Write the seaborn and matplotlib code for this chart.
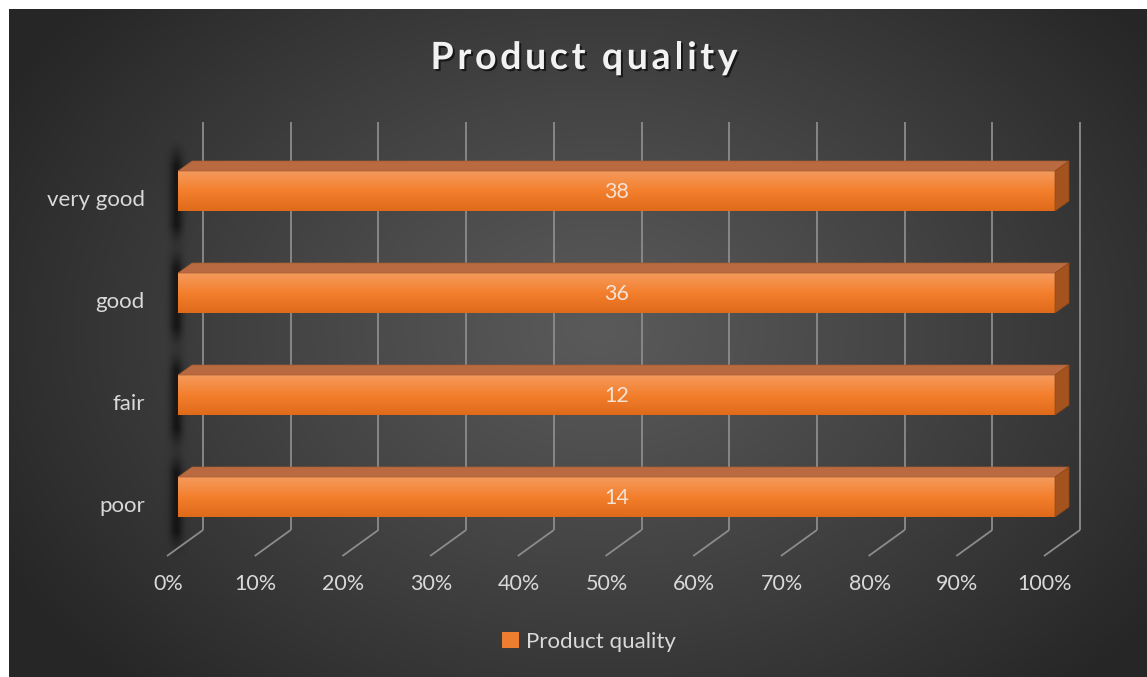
import numpy as np
import pandas as pd
import matplotlib
matplotlib.use("Agg")
import matplotlib.pyplot as plt
import seaborn as sns
from matplotlib.patches import Polygon
import matplotlib.patheffects as pe
from matplotlib.colors import to_rgb

# ---------------- data ----------------
categories = ["very good", "good", "fair", "poor"]
counts = [38, 36, 12, 14]
series_name = "Product quality"
tick_values = [0, 10, 20, 30, 40, 50, 60, 70, 80, 90, 100]
tick_labels = [f"{v}%" for v in tick_values]
title_text = "Product quality"

W, H, DPI = 1147, 677, 100
sns.set_theme(style="white")
plt.rcParams["font.family"] = ["Lato", "DejaVu Sans"]

fig = plt.figure(figsize=(W / DPI, H / DPI), dpi=DPI)
fig.patch.set_facecolor("white")

# ---------------- background (radial gradient) ----------------
bg = fig.add_axes([9 / W, 0, 1 - 9 / W, 1 - 9 / H], zorder=0)
bw, bh = W - 9, H - 9
yy, xx = np.mgrid[0:bh, 0:bw]
cx, cy = 590, 320
r = np.sqrt(((xx - cx) / (bw * 0.60)) ** 2 + ((yy - cy) / (bh * 0.75)) ** 2)
r = np.clip(r, 0, 1) ** 1.1
c0 = np.array(to_rgb("#5a5a5a"))
c1 = np.array(to_rgb("#262626"))
img = c0 + (c1 - c0) * r[..., None]
bg.imshow(img, aspect="auto", interpolation="bilinear")
bg.axis("off")

def px_axes(z):
    a = fig.add_axes([0, 0, 1, 1], zorder=z)
    a.set_xlim(0, W)
    a.set_ylim(H, 0)
    a.axis("off")
    a.patch.set_visible(False)
    return a

back = px_axes(1)

# ---------------- main axes with seaborn bars ----------------
ax = fig.add_axes([178 / W, 1 - 548 / H, (1055 - 178) / W, (548 - 140) / H], zorder=2)
ax.patch.set_visible(False)

df = pd.DataFrame({"category": categories, "count": counts, "series": series_name})
df["share"] = df["count"] / df.groupby("category")["count"].transform("sum") * 100

sns.barplot(data=df, x="share", y="category", hue="series", palette=["#ed7d31"],
            width=40 / 102, orient="h", saturation=1, ax=ax, legend=True,
            linewidth=0, edgecolor="none")
ax.set_xlim(0, 100)
ax.set_ylim(3.5, -0.5)
for s in ax.spines.values():
    s.set_visible(False)
ax.set_xticks([])
ax.set_yticks([])
ax.set_xlabel("")
ax.set_ylabel("")
handles, labels = ax.get_legend_handles_labels()
if ax.get_legend() is not None:
    ax.get_legend().remove()

front = px_axes(3)

def to_px(x, y):
    d = ax.transData.transform((x, y))
    return d[0], H - d[1]

# ---------------- gridlines (back wall + floor) ----------------
grid_c = "#8c8c8c"
for v, lab in zip(tick_values, tick_labels):
    xf, _ = to_px(v, 0)
    back.plot([xf + 25, xf + 25], [122, 530], color=grid_c, lw=1.3, solid_capstyle="butt")
    back.plot([xf + 25, xf - 11], [530, 556], color=grid_c, lw=1.3, solid_capstyle="butt")
    back.text(xf - 10, 584, lab, color="#d9d9d9", fontsize=15.5, ha="center", va="center")

# ---------------- bars: 3D faces, gradient, shadow, labels ----------------
bars = sorted([p for p in ax.patches if p.get_width() > 0], key=lambda p: p.get_y())
grad = np.linspace(0, 1, 60)
top_c = np.array(to_rgb("#f59a5c"))
mid_c = np.array(to_rgb("#f37f2d"))
bot_c = np.array(to_rgb("#df6a1a"))
gcol = np.where(grad[:, None] < 0.5,
                top_c + (mid_c - top_c) * (grad[:, None] / 0.5),
                mid_c + (bot_c - mid_c) * ((grad[:, None] - 0.5) / 0.5))
gimg = np.repeat(gcol[:, None, :], 2, axis=1)

for p, cat, cnt in zip(bars, categories, counts):
    x0, y0 = p.get_x(), p.get_y()
    x1, y1 = x0 + p.get_width(), y0 + p.get_height()
    im = ax.imshow(gimg, extent=[x0, x1, y1, y0], aspect="auto", zorder=3,
                   interpolation="bilinear")
    im.set_clip_path(p)
    lx, ty = to_px(x0, y0)
    rx, by = to_px(x1, y1)
    dx, dy = 14, -10
    # soft shadow at left end (mostly hidden behind the bar)
    sh_w, sh_h = 60, int(by - ty + 80)
    sy, sx = np.mgrid[0:sh_h, 0:sh_w]
    ax_ = np.exp(-((sx - 40) / 6.5) ** 2)
    ay_ = np.clip(np.minimum(sy - 4, sh_h - 4 - sy) / 26.0, 0, 1) ** 1.3
    alpha = np.clip(ax_ * ay_ * 0.6, 0, 1)
    shadow = np.zeros((sh_h, sh_w, 4))
    shadow[..., 3] = alpha
    back.imshow(shadow, extent=[lx - 42, lx - 42 + sh_w, ty - 36 + sh_h, ty - 36],
                aspect="auto", zorder=0.5, interpolation="bicubic")
    # top face
    front.add_patch(Polygon([[lx, ty], [rx, ty], [rx + dx, ty + dy], [lx + dx, ty + dy]],
                            closed=True, facecolor="#b96a40", edgecolor="#a55a30", lw=0.5))
    # right face
    front.add_patch(Polygon([[rx, ty], [rx + dx, ty + dy], [rx + dx, by + dy], [rx, by]],
                            closed=True, facecolor="#a4531f", edgecolor="#8f4718", lw=0.5))
    cxp = (lx + rx) / 2
    front.text(cxp, (ty + by) / 2 + 1.5, str(cnt), color="#f3e3d6", fontsize=15.5,
               ha="center", va="center")
    back.text(lx - 33, (ty + by) / 2 + 9, cat, color="#d9d9d9", fontsize=16,
              ha="right", va="center")

back.set_xlim(0, W)
back.set_ylim(H, 0)
ax.set_xlim(0, 100)
ax.set_ylim(3.5, -0.5)

# ---------------- title with letter spacing ----------------
renderer = fig.canvas.get_renderer()
tkw = dict(color="#f2f2f2", fontsize=27, fontweight="bold", va="center", ha="left")

def text_width(s):
    t = front.text(0, 0, "|" + s + "|", **tkw)
    w = t.get_window_extent(renderer).width
    t.remove()
    t2 = front.text(0, 0, "||", **tkw)
    w2 = t2.get_window_extent(renderer).width
    t2.remove()
    return w - w2

target_w = 307
full_w = text_width(title_text)
n = len(title_text)
spacing = (target_w - full_w) / (n - 1)
x_start = 584 - target_w / 2
shadow_eff = [pe.withSimplePatchShadow(offset=(1.5, -1.5), shadow_rgbFace="black", alpha=0.6)]
for i, ch in enumerate(title_text):
    if ch == " ":
        continue
    xpos = x_start + text_width(title_text[:i]) + i * spacing
    t = front.text(xpos, 58, ch, **tkw)
    t.set_path_effects(shadow_eff)

# ---------------- legend ----------------
leg = fig.legend(handles, [series_name], loc="center", bbox_to_anchor=(589 / W, 1 - 642 / H),
                 frameon=False, fontsize=16, handlelength=0.75, handleheight=0.75,
                 handletextpad=0.3, labelcolor="#d9d9d9")
for h in leg.legend_handles:
    h.set_edgecolor("none")
leg.set_zorder(5)

fig.savefig("out.png", dpi=DPI, facecolor=fig.get_facecolor())
